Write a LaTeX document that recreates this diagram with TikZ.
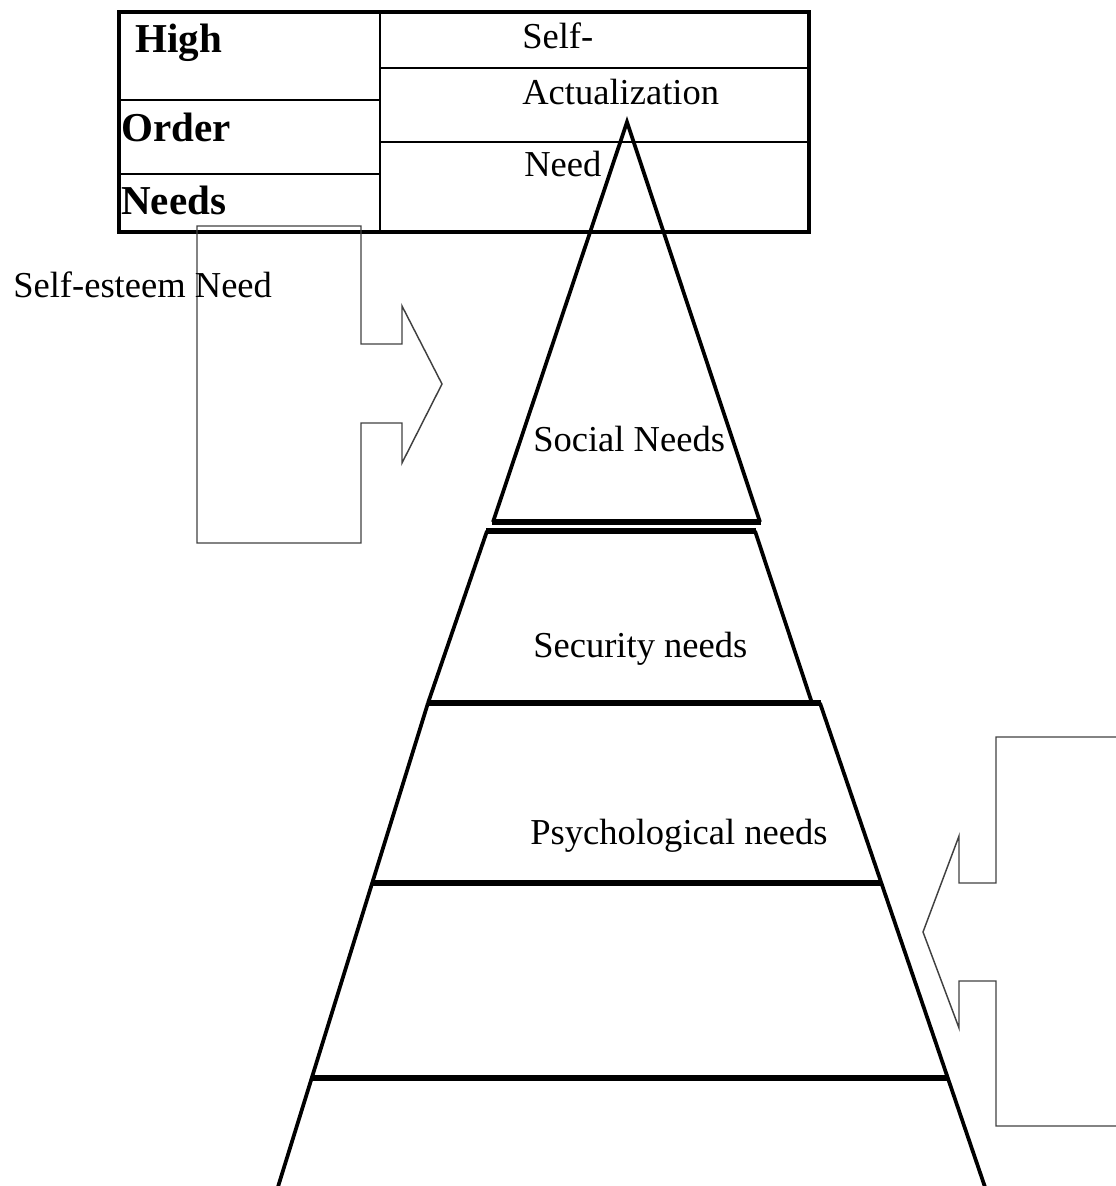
\documentclass[tikz,border=0pt]{standalone}
\usepackage{fontspec}
\setmainfont{Liberation Serif}
\begin{document}
\begin{tikzpicture}[x=0.75pt,y=-0.75pt,
  txt/.style={anchor=base west,inner sep=0pt,font=\fontsize{27.4}{32}\selectfont},
  btxt/.style={anchor=base west,inner sep=0pt,font=\fontsize{30.8}{36}\selectfont\bfseries},
  tabouter/.style={draw=black,line width=2.3pt},
  tabinner/.style={draw=black,line width=1.8pt},
  side/.style={draw=black,line width=2.8pt},
  sep/.style={draw=black,line width=4.2pt},
  callout/.style={draw=black!75,line width=1.1pt,line join=miter}]
\useasboundingbox (0,0) rectangle (1116,1186);
% table
\draw[tabinner] (380,12) -- (380,232);
\draw[tabinner] (119,100) -- (380,100);
\draw[tabinner] (119,174) -- (380,174);
\draw[tabinner] (380,68) -- (809,68);
\draw[tabinner] (380,142) -- (809,142);
\draw[tabouter] (119,12) rectangle (809,232);
\node[btxt] (high) at (135,52) {High};
\node[btxt] (order) at (121,141) {Order};
\node[btxt] (needs) at (121,214) {Needs};
\node[txt] (self) at (522,48) {Self-};
\node[txt] (act) at (522,104) {Actualization};
\node[txt] (need) at (524,176) {Need};
% left callout
\draw[callout] (197,226) -- (361,226) -- (361,344) -- (402,344) -- (402,306) -- (442,384)
  -- (402,463) -- (402,423) -- (361,423) -- (361,543) -- (197,543) -- cycle;
\node[txt] (esteem) at (13,297) {Self-esteem Need};
% right callout
\draw[callout] (1120,737) -- (996,737) -- (996,883) -- (959,883) -- (959,836) -- (923,932)
  -- (959,1028) -- (959,981) -- (996,981) -- (996,1126) -- (1120,1126);
% pyramid: top triangle
\draw[side] (493,522) -- (627,122) -- (760,522);
\draw[sep] (492,522) -- (761,522);
% security trapezoid
\draw[side] (428,703) -- (487,531);
\draw[side] (755,531) -- (812,703);
\draw[sep] (486,531) -- (756,531);
% lower part
\draw[sep] (427,703) -- (821,703);
\draw[side] (428,703) -- (277,1190);
\draw[side] (820,703) -- (986,1190);
\draw[sep] (372,883) -- (881,883);
\draw[sep] (311,1078) -- (947,1078);
% labels
\node[txt] (social) at (533,451) {Social Needs};
\node[txt] (security) at (533,657) {Security needs};
\node[txt] (psych) at (530,844) {Psychological needs};
\end{tikzpicture}
\end{document}
